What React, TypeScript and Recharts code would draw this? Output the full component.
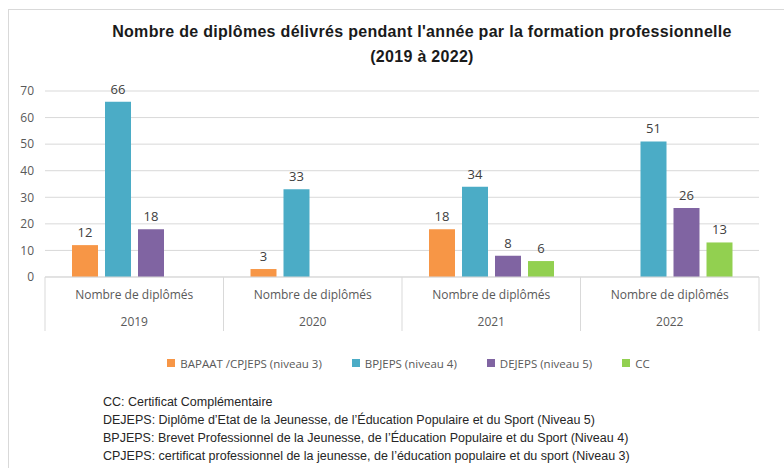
import { BarChart, Bar, XAxis, YAxis, CartesianGrid, Legend, LabelList } from "recharts";

const years = ["2019", "2020", "2021", "2022"];
const bapaat = [12, 3, 18, null];
const bpjeps = [66, 33, 34, 51];
const dejeps = [18, null, 8, 26];
const cc = [null, null, 6, 13];
const yTicks = [0, 10, 20, 30, 40, 50, 60, 70];

const series = [
  { key: "bapaat", name: "BAPAAT /CPJEPS (niveau 3)", color: "#F79646" },
  { key: "bpjeps", name: "BPJEPS (niveau 4)", color: "#4BACC6" },
  { key: "dejeps", name: "DEJEPS (niveau 5)", color: "#8064A2" },
  { key: "cc", name: "CC", color: "#92D050" },
];

const notes = [
  "CC:  Certificat Complémentaire",
  "DEJEPS: Diplôme d’Etat de la Jeunesse, de l’Éducation Populaire et du Sport (Niveau 5)",
  "BPJEPS: Brevet Professionnel de la Jeunesse, de l’Éducation Populaire et du Sport (Niveau 4)",
  "CPJEPS: certificat professionnel de la jeunesse, de l’éducation populaire et du sport (Niveau 3)",
];

const data = years.map((year, i) => ({
  year,
  bapaat: bapaat[i],
  bpjeps: bpjeps[i],
  dejeps: dejeps[i],
  cc: cc[i],
}));

const W = 784;
const H = 380;
const margin = { top: 91, right: 25, left: 8, bottom: 7 };
const yAxisWidth = 37;
const plotWidth = W - margin.left - margin.right - yAxisWidth;
const halfBand = plotWidth / years.length / 2;
const font = "'Open Sans', sans-serif";
const grid = "#D9D9D9";

function YearTick(props: any) {
  const { x, y, payload, index } = props;
  const last = index === years.length - 1;
  return (
    <g>
      <line x1={x - halfBand} x2={x - halfBand} y1={y} y2={y + 54} stroke={grid} />
      {last && <line x1={x + halfBand} x2={x + halfBand} y1={y} y2={y + 54} stroke={grid} />}
      <text x={x} y={y + 22} textAnchor="middle" fill="#595959" fontSize={12} fontFamily={font}>
        Nombre de diplômés
      </text>
      <text x={x} y={y + 49} textAnchor="middle" fill="#595959" fontSize={12} fontFamily={font}>
        {payload.value}
      </text>
    </g>
  );
}

function LegendBox() {
  return (
    <div
      style={{
        display: "flex",
        justifyContent: "center",
        gap: 30,
        paddingLeft: 50,
        height: 20,
        alignItems: "center",
        fontFamily: font,
        fontSize: 11.5,
        color: "#595959",
      }}
    >
      {series.map((s) => (
        <div key={s.key} style={{ display: "flex", alignItems: "center", gap: 5 }}>
          <span style={{ width: 8, height: 8, background: s.color, display: "inline-block" }} />
          <span>{s.name}</span>
        </div>
      ))}
    </div>
  );
}

export default function App() {
  return (
    <div style={{ position: "absolute", left: 0, top: 0, width: W, height: 468, background: "#fff" }}>
      <div
        style={{
          position: "absolute",
          left: 8,
          top: 9,
          right: 0,
          bottom: 0,
          borderLeft: `1px solid ${grid}`,
          borderTop: `1px solid ${grid}`,
        }}
      />
      <div
        style={{
          position: "absolute",
          left: 60,
          width: 724,
          top: 19,
          textAlign: "center",
          fontFamily: "'Liberation Sans', Arial, sans-serif",
          fontWeight: "bold",
          fontSize: 16,
          letterSpacing: 0.3,
          lineHeight: "25px",
          color: "#1a1a1a",
        }}
      >
        Nombre de diplômes délivrés pendant l'année par la formation professionnelle
        <br />
        (2019 à 2022)
      </div>
      <div style={{ position: "absolute", left: 0, top: 0 }}>
        <BarChart width={W} height={H} data={data} margin={margin} barSize={26} barGap={7}>
          <CartesianGrid vertical={false} stroke={grid} />
          <XAxis
            dataKey="year"
            tick={<YearTick />}
            tickLine={false}
            tickSize={0}
            tickMargin={0}
            axisLine={{ stroke: grid }}
            height={76}
            interval={0}
          />
          <YAxis
            domain={[0, 70]}
            ticks={yTicks}
            width={yAxisWidth}
            axisLine={false}
            tickLine={false}
            tickMargin={5}
            tick={{ fill: "#595959", fontSize: 12, fontFamily: font }}
          />
          <Legend verticalAlign="bottom" content={<LegendBox />} />
          {series.map((s) => (
            <Bar key={s.key} dataKey={s.key} name={s.name} fill={s.color} isAnimationActive={false}>
              <LabelList
                dataKey={s.key}
                position="top"
                offset={8}
                fill="#404040"
                fontSize={13}
                fontFamily={font}
                formatter={(v: any) => (v == null ? "" : v)}
              />
            </Bar>
          ))}
        </BarChart>
      </div>
      <div
        style={{
          position: "absolute",
          left: 103,
          top: 393,
          fontFamily: "'Liberation Sans', Arial, sans-serif",
          fontSize: 12.5,
          lineHeight: "18px",
          color: "#262626",
          whiteSpace: "nowrap",
        }}
      >
        {notes.map((n) => (
          <div key={n}>{n}</div>
        ))}
      </div>
    </div>
  );
}
